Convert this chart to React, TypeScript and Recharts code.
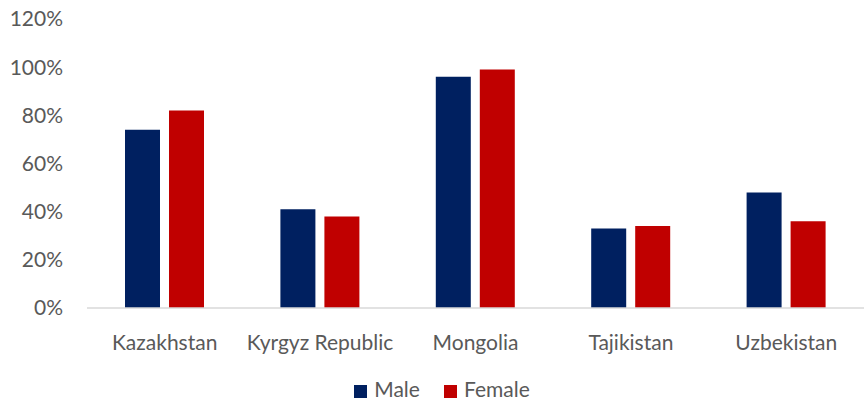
import { BarChart, Bar, XAxis, YAxis, Legend } from "recharts";

const countries = ["Kazakhstan", "Kyrgyz Republic", "Mongolia", "Tajikistan", "Uzbekistan"];
const male = [74, 41, 96, 33, 48];
const female = [82, 38, 99, 34, 36];
const yTicks = [0, 20, 40, 60, 80, 100, 120];
const seriesOrder = ["Male", "Female"];

const NAVY = "#002060";
const RED = "#C00000";
const TEXT = "#595959";
const FONT = "Lato, sans-serif";

const data = countries.map((name, i) => ({ name, Male: male[i], Female: female[i] }));

export default function App() {
  return (
    <div style={{ width: 865, height: 403, background: "#fff", fontFamily: FONT }}>
      <style>{"body{margin:0}"}</style>
      <BarChart
        width={865}
        height={403}
        data={data}
        margin={{ top: 19, right: 1, left: 0, bottom: 2 }}
        barGap={9}
        barSize={35}
      >
        <XAxis
          dataKey="name"
          tickLine={false}
          axisLine={{ stroke: "#d9d9d9", strokeWidth: 1.5 }}
          tick={{ fill: TEXT, fontSize: 21, fontFamily: FONT }}
          tickMargin={21}
          height={68}
        />
        <YAxis
          width={87}
          domain={[0, 120]}
          ticks={yTicks}
          interval={0}
          axisLine={false}
          tickLine={false}
          tickSize={0}
          tickMargin={24}
          tickFormatter={(v: number) => `${v}%`}
          tick={{ fill: TEXT, fontSize: 21, fontFamily: FONT }}
        />
        <Legend
          verticalAlign="bottom"
          iconType="square"
          iconSize={13}
          itemSorter={(item: { value: string }) => seriesOrder.indexOf(item.value)}
          wrapperStyle={{ fontSize: 21, color: TEXT, fontFamily: FONT, paddingLeft: 22 }}
          formatter={(value: string) => (
            <span style={{ color: TEXT, marginLeft: 3, marginRight: 14 }}>{value}</span>
          )}
        />
        <Bar dataKey="Male" fill={NAVY} isAnimationActive={false} />
        <Bar dataKey="Female" fill={RED} isAnimationActive={false} />
      </BarChart>
    </div>
  );
}
